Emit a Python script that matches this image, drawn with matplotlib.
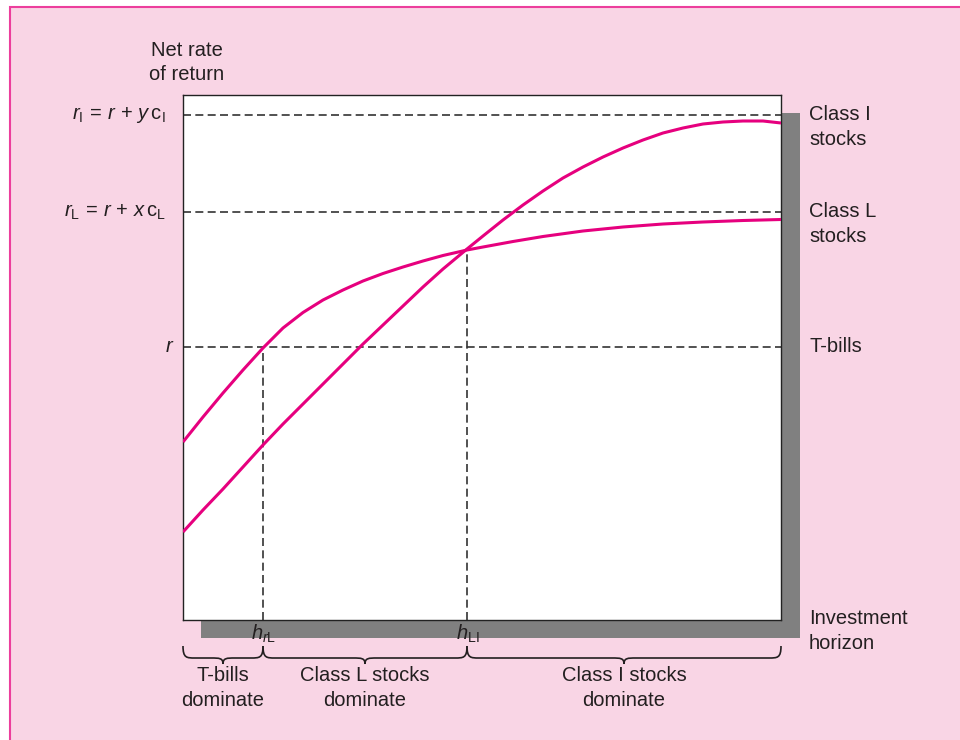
import matplotlib
matplotlib.use("Agg")
import matplotlib.pyplot as plt
import matplotlib.transforms as mtransforms
from matplotlib.patches import Rectangle, PathPatch
from matplotlib.path import Path

plt.rcParams['font.family'] = ['Liberation Sans', 'DejaVu Sans']
plt.rcParams['mathtext.fontset'] = 'custom'
plt.rcParams['mathtext.rm'] = 'Liberation Sans'
plt.rcParams['mathtext.it'] = 'Liberation Sans:italic'

# ---- data (arbitrary units: horizon 0..598, return 0..525) ----
class_l_x = [0, 20, 40, 60, 80, 100, 120, 140, 160, 180, 200, 220, 240, 260, 284, 300, 330, 360,
             400, 440, 480, 520, 560, 598]
class_l_y = [178, 203, 227, 250, 272, 292, 307.5, 320, 330, 339, 346.5, 353, 359, 364.5, 370, 373,
             378.5, 383.5, 389, 393, 396, 398, 399.5, 400.5]
class_i_x = [0, 20, 40, 60, 80, 100, 120, 140, 160, 180, 200, 220, 240, 260, 284, 300, 320, 340,
             360, 380, 400, 420, 440, 460, 480, 500, 520, 540, 560, 580, 598]
class_i_y = [88, 110, 131, 153, 175, 196, 216, 236, 256, 276, 295, 314, 333, 351, 371, 384, 400,
             415, 429, 442, 453, 463, 472, 480, 487, 492, 496, 498, 499, 499, 497]

r_level = 273
rL_level = 408
rI_level = 505
h_rL = 80
h_LI = 284
x_max = 598
y_max = 525

left_labels = [r'$r_{\rm I}\,=\,r\,+\,y\,\mathrm{c}_{\rm I}$',
               r'$r_{\rm L}\,=\,r\,+\,x\,\mathrm{c}_{\rm L}$',
               r'$r$']
right_labels = ['Class I\nstocks', 'Class L\nstocks', 'T-bills']
region_labels = ['T-bills\ndominate', 'Class L stocks\ndominate', 'Class I stocks\ndominate']

W, H = 960, 740
fig = plt.figure(figsize=(W / 100, H / 100), dpi=100)
fig.patch.set_facecolor('white')

def fx(px):
    return px / W

def fy(py):
    return 1 - py / H

# pink background panel with magenta border
bg = Rectangle((fx(10), fy(760)), fx(1000), fy(7) - fy(760), transform=fig.transFigure,
               facecolor='#F9D5E5', edgecolor='#EC3E9C', linewidth=1.5, zorder=-3)
fig.patches.append(bg)

ax_left, ax_top, ax_right, ax_bottom = 183, 95, 781, 620
ax = fig.add_axes([fx(ax_left), fy(ax_bottom), fx(ax_right - ax_left), (ax_bottom - ax_top) / H])
ax.set_zorder(1)

# drop shadow
shadow = Rectangle((fx(ax_left + 18), fy(ax_bottom + 18)), fx(ax_right - ax_left + 1),
                   (ax_bottom - ax_top) / H, transform=fig.transFigure,
                   facecolor='#808080', edgecolor='none', zorder=-1)
fig.patches.append(shadow)

ax.set_facecolor('white')
ax.set_xlim(0, x_max)
ax.set_ylim(0, y_max)
ax.set_xticks([])
ax.set_yticks([])
for s in ax.spines.values():
    s.set_color('#222222')
    s.set_linewidth(1.0)

dash = (0, (4.8, 2.6))
dcol = '#333333'
for lv in (rI_level, rL_level, r_level):
    ax.plot([0, x_max], [lv, lv], color=dcol, lw=1.2, linestyle=dash, zorder=2)
ax.plot([h_rL, h_rL], [0, r_level], color=dcol, lw=1.2, linestyle=dash, zorder=2)
ax.plot([h_LI, h_LI], [0, 371], color=dcol, lw=1.2, linestyle=dash, zorder=2)

curve_col = '#E6007E'
ax.plot(class_l_x, class_l_y, color=curve_col, lw=2.2, zorder=3, solid_capstyle='butt', solid_joinstyle='round')
ax.plot(class_i_x, class_i_y, color=curve_col, lw=2.2, zorder=3, solid_capstyle='butt', solid_joinstyle='round')

fs = 14.5
tcol = '#231F20'

# y-axis title
fig.text(fx(187), fy(50), 'Net rate', ha='center', va='center', fontsize=fs, color=tcol)
fig.text(fx(187), fy(75), 'of return', ha='center', va='center', fontsize=fs, color=tcol)

# left level labels
trans_left = mtransforms.blended_transform_factory(fig.transFigure, ax.transData)
for lab, lv, xr in zip(left_labels, (rI_level, rL_level, r_level), (166, 166, 174)):
    ax.text(fx(xr), lv, lab, transform=trans_left, ha='right', va='center', fontsize=fs, color=tcol)

# right labels
for lab, lv in zip(right_labels, (rI_level - 12, rL_level - 12, r_level)):
    ax.text(fx(809), lv, lab, transform=trans_left, ha='left', va='center', fontsize=fs,
            color=tcol, linespacing=1.35)
fig.text(fx(809), fy(631), 'Investment\nhorizon', ha='left', va='center', fontsize=fs,
         color=tcol, linespacing=1.35)

# h labels
trans_bot = mtransforms.blended_transform_factory(ax.transData, fig.transFigure)
ax.text(h_rL + 1, fy(634), r'$h_{r\rm L}$', transform=trans_bot, ha='center', va='center',
        fontsize=fs, color=tcol, zorder=5)
ax.text(h_LI + 1, fy(634), r'$h_{\rm LI}$', transform=trans_bot, ha='center', va='center',
        fontsize=fs, color=tcol, zorder=5)

# braces
def brace(x0, x1):
    y_top = fy(646)
    y_mid = fy(658)
    y_tip = fy(664)
    xm = (x0 + x1) / 2
    c = 12
    verts = [
        (x0, y_top),
        (x0, y_mid), (x0 + c * 0.3, y_mid), (x0 + c, y_mid),
        (xm - c, y_mid),
        (xm - c * 0.3, y_mid), (xm, y_mid), (xm, y_tip),
        (xm, y_mid), (xm + c * 0.3, y_mid), (xm + c, y_mid),
        (x1 - c, y_mid),
        (x1 - c * 0.3, y_mid), (x1, y_mid), (x1, y_top),
    ]
    codes = [Path.MOVETO,
             Path.CURVE4, Path.CURVE4, Path.CURVE4,
             Path.LINETO,
             Path.CURVE4, Path.CURVE4, Path.CURVE4,
             Path.CURVE4, Path.CURVE4, Path.CURVE4,
             Path.LINETO,
             Path.CURVE4, Path.CURVE4, Path.CURVE4]
    p = PathPatch(Path(verts, codes), transform=trans_bot, facecolor='none',
                  edgecolor=tcol, lw=1.2, clip_on=False)
    ax.add_patch(p)

bounds = [0, h_rL, h_LI, x_max]
for i, lab in enumerate(region_labels):
    brace(bounds[i], bounds[i + 1])
    ax.text((bounds[i] + bounds[i + 1]) / 2, fy(688), lab, transform=trans_bot,
            ha='center', va='center', fontsize=fs, color=tcol, linespacing=1.35)

fig.savefig('out.png', dpi=100, facecolor=fig.get_facecolor())
